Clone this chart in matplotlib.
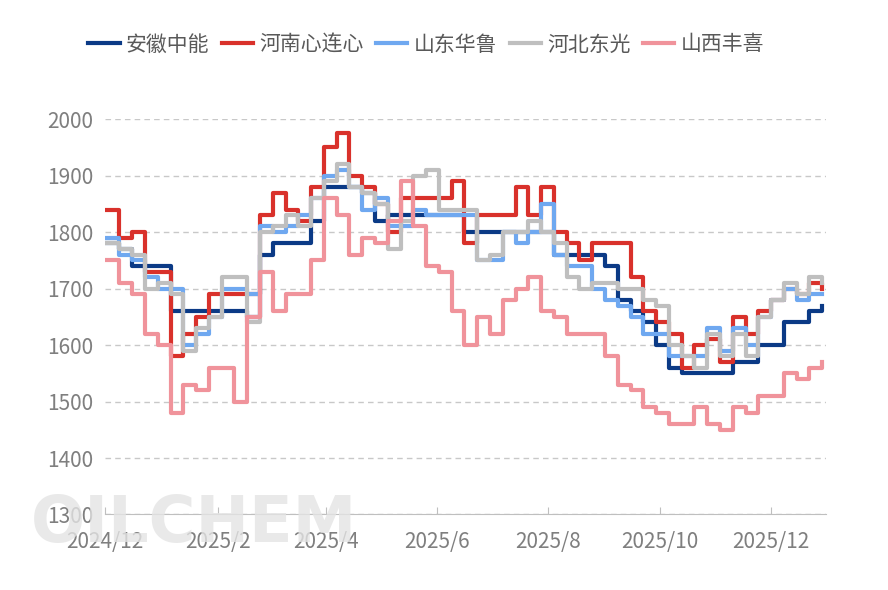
import numpy as np
import pandas as pd
import matplotlib.pyplot as plt
import matplotlib.dates as mdates

plt.rcParams['font.family'] = ['Noto Sans CJK SC', 'DejaVu Sans']

dates = pd.date_range("2024-12-02", periods=57, freq="7D")

anhui = [1780, 1770, 1740, 1740, 1740, 1660, 1660, 1660, 1660, 1660, 1660, 1650, 1760, 1780, 1780,
         1780, 1820, 1880, 1880, 1880, 1870, 1820, 1830, 1830, 1830, 1830, 1830, 1830, 1800, 1800,
         1800, 1800, 1800, 1800, 1800, 1760, 1760, 1760, 1760, 1740, 1680, 1660, 1640, 1600, 1560,
         1550, 1550, 1550, 1550, 1570, 1570, 1600, 1600, 1640, 1640, 1660, 1670]
henan = [1840, 1790, 1800, 1730, 1730, 1580, 1620, 1650, 1690, 1690, 1690, 1690, 1830, 1870, 1840,
         1820, 1880, 1950, 1975, 1900, 1880, 1850, 1800, 1860, 1860, 1860, 1860, 1890, 1780, 1830,
         1830, 1830, 1880, 1830, 1880, 1800, 1780, 1750, 1780, 1780, 1780, 1720, 1660, 1640, 1620,
         1560, 1600, 1610, 1570, 1650, 1620, 1660, 1680, 1700, 1690, 1710, 1700]
shandong = [1790, 1760, 1750, 1720, 1700, 1700, 1600, 1620, 1650, 1700, 1700, 1690, 1810, 1800, 1810,
            1830, 1860, 1900, 1910, 1880, 1840, 1860, 1810, 1810, 1840, 1830, 1830, 1830, 1830, 1750,
            1750, 1800, 1780, 1800, 1850, 1760, 1740, 1740, 1700, 1680, 1670, 1650, 1620, 1620, 1580,
            1580, 1580, 1630, 1590, 1630, 1600, 1650, 1680, 1700, 1680, 1690, 1690]
hebei = [1780, 1770, 1760, 1700, 1710, 1690, 1590, 1630, 1650, 1720, 1720, 1640, 1800, 1810, 1830,
         1810, 1860, 1890, 1920, 1880, 1870, 1850, 1770, 1820, 1900, 1910, 1840, 1840, 1840, 1750,
         1760, 1800, 1800, 1820, 1800, 1780, 1720, 1700, 1710, 1710, 1700, 1700, 1680, 1670, 1600,
         1580, 1560, 1620, 1580, 1620, 1580, 1650, 1680, 1710, 1690, 1720, 1710]
shanxi = [1750, 1710, 1690, 1620, 1600, 1480, 1530, 1520, 1560, 1560, 1500, 1650, 1730, 1660, 1690,
          1690, 1750, 1860, 1830, 1760, 1790, 1780, 1820, 1890, 1810, 1740, 1730, 1660, 1600, 1650,
          1620, 1680, 1700, 1720, 1660, 1650, 1620, 1620, 1620, 1580, 1530, 1520, 1490, 1480, 1460,
          1460, 1490, 1460, 1450, 1490, 1480, 1510, 1510, 1550, 1540, 1560, 1570]

names = ["安徽中能", "河南心连心", "山东华鲁", "河北东光", "山西丰喜"]
series = [anhui, henan, shandong, hebei, shanxi]
colors = ["#0b3a86", "#d9312b", "#6fa8f0", "#bfbfbf", "#f0939b"]

fig = plt.figure(figsize=(8.88, 5.9), dpi=100)
ax = fig.add_axes([0.118, 0.128, 0.812, 0.67])

# faint watermark, partly hidden below the axis like in the source
fig.text(0.035, 0.06, "OILCHEM", fontsize=46, color="#e4e4e4", alpha=0.8,
         fontweight="bold", family="DejaVu Sans", va="bottom", zorder=0)

for name, vals, c in zip(names, series, colors):
    ax.plot(dates, vals, drawstyle="steps-post", color=c, lw=3, label=name, zorder=2)

ax.set_ylim(1300, 2000)
ax.set_yticks(range(1300, 2001, 100))
ax.set_xlim(pd.Timestamp("2024-12-01"), pd.Timestamp("2025-12-31"))
ticks = pd.date_range("2024-12-01", periods=7, freq="2MS")
ax.set_xticks(ticks)
ax.xaxis.set_major_formatter(mdates.DateFormatter("%Y/%-m"))
ax.grid(axis="y", ls=(0, (4, 3)), color="#c8c8c8", lw=1)
ax.patch.set_alpha(0)
for s in ["top", "right", "left"]:
    ax.spines[s].set_visible(False)
ax.spines["bottom"].set_color("#bfbfbf")
ax.tick_params(axis="y", length=0, labelsize=15, labelcolor="#7f7f7f", pad=8)
ax.tick_params(axis="x", direction="in", length=5, color="#bfbfbf", labelsize=15,
               labelcolor="#7f7f7f", pad=12)

fig.legend(loc="upper center", bbox_to_anchor=(0.48, 0.975), ncol=5, frameon=False,
           fontsize=15, handlelength=1.5, columnspacing=0.6, handletextpad=0.3,
           labelcolor="#595959")

fig.savefig("out.png")
